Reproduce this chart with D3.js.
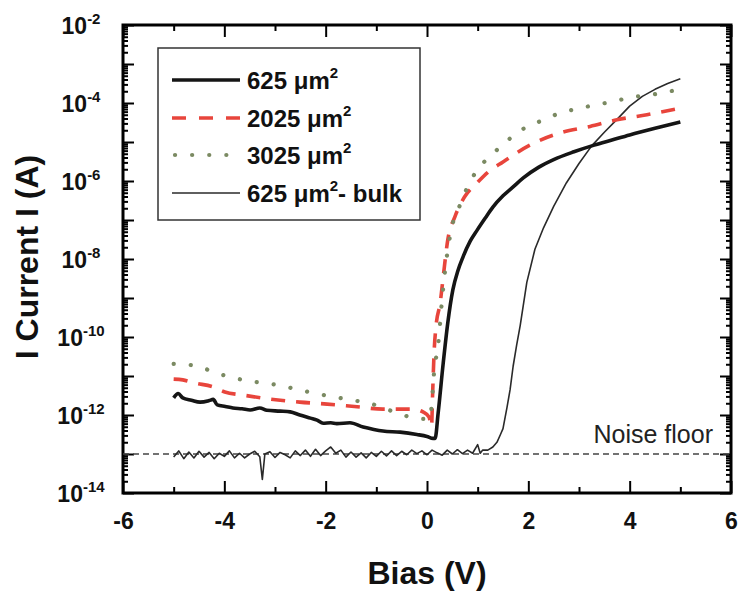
<!DOCTYPE html>
<html>
<head>
<meta charset="utf-8">
<script src="https://cdn.jsdelivr.net/npm/d3@7"></script>
<style>
  html, body { margin: 0; padding: 0; background: #fff; }
  svg { display: block; font-family: "Liberation Sans", Arial, sans-serif; }
</style>
</head>
<body>
<svg id="chart" width="741" height="595"></svg>
<script>
// ---- data (x = bias in V, v = log10 of current in A) ----
const xTickValues = [-6, -4, -2, 0, 2, 4, 6];
const xMinorValues = [-5, -3, -1, 1, 3, 5];
const yLabelExponents = [-2, -4, -6, -8, -10, -12, -14];
const noiseFloor = 1e-13;

const seriesNames = ["625 \u03bcm", "2025 \u03bcm", "3025 \u03bcm", "625 \u03bcm"];
const seriesSuffix = ["", "", "", "- bulk"];

const d625 = [[-5.0,-11.56],[-4.91,-11.45],[-4.82,-11.56],[-4.65,-11.62],[-4.48,-11.67],[-4.3,-11.63],[-4.22,-11.6],[-4.14,-11.74],[-3.98,-11.78],[-3.83,-11.82],[-3.65,-11.84],[-3.49,-11.87],[-3.3,-11.82],[-3.16,-11.88],[-2.9,-11.9],[-2.7,-11.92],[-2.51,-12.0],[-2.3,-12.08],[-2.17,-12.13],[-2.05,-12.21],[-1.9,-12.2],[-1.78,-12.22],[-1.52,-12.2],[-1.26,-12.31],[-1.05,-12.37],[-0.87,-12.41],[-0.53,-12.44],[-0.2,-12.5],[0.0,-12.55],[0.12,-12.6],[0.16,-12.6],[0.22,-11.95],[0.32,-10.67],[0.41,-9.64],[0.51,-8.79],[0.61,-8.3],[0.71,-7.95],[0.85,-7.55],[0.99,-7.26],[1.15,-6.95],[1.3,-6.67],[1.5,-6.38],[1.7,-6.15],[1.9,-5.92],[2.2,-5.65],[2.5,-5.45],[2.9,-5.25],[3.3,-5.08],[3.65,-4.95],[4.0,-4.82],[4.5,-4.65],[5.0,-4.49]];

const d2025 = [[-5.0,-11.08],[-4.82,-11.1],[-4.58,-11.18],[-4.22,-11.28],[-3.99,-11.41],[-3.63,-11.49],[-3.1,-11.59],[-2.51,-11.67],[-1.97,-11.72],[-1.38,-11.79],[-0.87,-11.85],[-0.28,-11.85],[-0.08,-11.92],[0.04,-12.05],[0.09,-12.3],[0.11,-11.5],[0.14,-10.4],[0.18,-9.7],[0.26,-9.13],[0.32,-8.46],[0.41,-7.51],[0.55,-6.92],[0.65,-6.62],[0.8,-6.3],[0.95,-6.1],[1.2,-5.78],[1.5,-5.51],[2.03,-5.08],[2.62,-4.77],[3.22,-4.6],[3.75,-4.43],[4.34,-4.3],[5.0,-4.13]];

const d3025 = [[-5.0,-10.69],[-4.54,-10.74],[-4.18,-10.92],[-3.85,-11.03],[-3.53,-11.13],[-3.2,-11.18],[-2.84,-11.26],[-2.51,-11.36],[-2.15,-11.46],[-1.82,-11.54],[-1.48,-11.62],[-1.16,-11.69],[-0.8,-11.85],[-0.43,-12.02],[-0.1,-12.1],[0.06,-12.1],[0.1,-11.6],[0.14,-10.9],[0.22,-10.2],[0.3,-9.0],[0.39,-7.95],[0.51,-7.08],[0.65,-6.62],[0.79,-6.18],[0.99,-5.72],[1.28,-5.33],[1.6,-4.95],[1.93,-4.64],[2.29,-4.44],[2.62,-4.26],[2.96,-4.15],[3.32,-4.05],[3.65,-3.97],[3.97,-3.87],[4.66,-3.74],[5.0,-3.64]];

const dBulk = [[-5.0,-13.08],[-4.9,-12.92],[-4.8,-13.12],[-4.7,-12.95],[-4.6,-13.1],[-4.5,-12.93],[-4.4,-13.08],[-4.3,-12.96],[-4.2,-13.12],[-4.1,-12.98],[-4.0,-13.06],[-3.9,-12.92],[-3.8,-13.1],[-3.7,-12.98],[-3.6,-13.1],[-3.5,-13.0],[-3.4,-12.93],[-3.3,-13.07],[-3.25,-13.65],[-3.2,-13.0],[-3.1,-12.94],[-3.0,-13.09],[-2.9,-12.96],[-2.8,-13.02],[-2.7,-13.1],[-2.6,-12.92],[-2.5,-13.04],[-2.4,-12.9],[-2.3,-13.06],[-2.2,-12.88],[-2.1,-13.04],[-2.0,-12.92],[-1.9,-12.82],[-1.8,-12.98],[-1.7,-12.9],[-1.6,-13.08],[-1.5,-12.95],[-1.4,-13.08],[-1.3,-12.97],[-1.2,-13.1],[-1.1,-12.96],[-1.0,-13.06],[-0.9,-12.93],[-0.8,-13.05],[-0.7,-12.92],[-0.6,-13.04],[-0.5,-12.93],[-0.4,-13.02],[-0.3,-12.9],[-0.2,-12.99],[-0.1,-12.92],[0.0,-13.02],[0.1,-12.9],[0.2,-12.97],[0.3,-13.03],[0.4,-12.9],[0.5,-13.0],[0.6,-12.89],[0.7,-12.99],[0.8,-12.9],[0.9,-12.98],[1.0,-12.76],[1.05,-12.98],[1.1,-12.9],[1.2,-12.9],[1.3,-12.82],[1.38,-12.7],[1.45,-12.5],[1.5,-12.35],[1.58,-11.8],[1.64,-11.35],[1.7,-10.75],[1.77,-10.2],[1.84,-9.7],[1.97,-8.6],[2.13,-7.75],[2.3,-7.2],[2.5,-6.65],[2.75,-6.05],[3.0,-5.55],[3.25,-5.1],[3.5,-4.75],[3.75,-4.42],[4.0,-4.08],[4.25,-3.83],[4.5,-3.65],[4.75,-3.5],[5.0,-3.38]];

// ---- layout ----
const svg = d3.select("#chart");
const L = 123, T = 25, W = 608, H = 468;
const font = '"Liberation Sans", Arial, sans-serif';

const x = d3.scaleLinear().domain([-6, 6]).range([L, L + W]);
const y = d3.scaleLog().domain([1e-14, 1e-2]).range([T + H, T]);

const decades = d3.range(-14, -1).map(e => Math.pow(10, e));
const minors = [];
d3.range(-14, -2).forEach(e => { for (let k = 2; k <= 9; k++) minors.push(k * Math.pow(10, e)); });

function axisStyle(g) {
  g.select(".domain").remove();
  g.selectAll(".tick line").attr("stroke", "#000").attr("stroke-width", 2);
}

// bottom axis (major with labels)
svg.append("g").attr("transform", `translate(0,${T + H})`)
  .call(d3.axisBottom(x).tickValues(xTickValues).tickSize(-12).tickPadding(20).tickFormat(d => String(d)))
  .call(axisStyle)
  .call(g => g.selectAll("text").attr("font-family", font).attr("font-size", 23).attr("font-weight", "bold").attr("fill", "#111"));
svg.append("g").attr("transform", `translate(0,${T + H})`)
  .call(d3.axisBottom(x).tickValues(xMinorValues).tickSize(-6).tickFormat(""))
  .call(axisStyle);
// top mirrored
svg.append("g").attr("transform", `translate(0,${T})`)
  .call(d3.axisTop(x).tickValues(xTickValues).tickSize(-12).tickFormat(""))
  .call(axisStyle);
svg.append("g").attr("transform", `translate(0,${T})`)
  .call(d3.axisTop(x).tickValues(xMinorValues).tickSize(-6).tickFormat(""))
  .call(axisStyle);
// left
svg.append("g").attr("transform", `translate(${L},0)`)
  .call(d3.axisLeft(y).tickValues(decades).tickSize(-11).tickFormat(""))
  .call(axisStyle);
svg.append("g").attr("transform", `translate(${L},0)`)
  .call(d3.axisLeft(y).tickValues(minors).tickSize(-5).tickFormat(""))
  .call(axisStyle);
// right
svg.append("g").attr("transform", `translate(${L + W},0)`)
  .call(d3.axisRight(y).tickValues(decades).tickSize(-11).tickFormat(""))
  .call(axisStyle);
svg.append("g").attr("transform", `translate(${L + W},0)`)
  .call(d3.axisRight(y).tickValues(minors).tickSize(-5).tickFormat(""))
  .call(axisStyle);

// y tick labels 10^n
yLabelExponents.forEach(e => {
  const t = svg.append("text")
    .attr("x", 81).attr("y", y(Math.pow(10, e)) + 8.5)
    .attr("text-anchor", "middle")
    .attr("font-family", font).attr("font-weight", "bold").attr("fill", "#111");
  t.append("tspan").attr("font-size", 23).text("10");
  t.append("tspan").attr("font-size", 15).attr("dy", -10).text(String(e));
});

// frame
svg.append("rect").attr("x", L).attr("y", T).attr("width", W).attr("height", H)
  .attr("fill", "none").attr("stroke", "#000").attr("stroke-width", 3);

// axis titles
svg.append("text").attr("x", x(0)).attr("y", 584).attr("text-anchor", "middle")
  .attr("font-family", font).attr("font-size", 32).attr("font-weight", "bold").attr("fill", "#111")
  .text("Bias (V)");
svg.append("text").attr("transform", `translate(38,257) rotate(-90)`).attr("text-anchor", "middle")
  .attr("font-family", font).attr("font-size", 32).attr("font-weight", "bold").attr("fill", "#111")
  .text("I Current I (A)");

// noise floor
svg.append("line").attr("x1", x(-6)).attr("x2", x(6)).attr("y1", y(noiseFloor)).attr("y2", y(noiseFloor))
  .attr("stroke", "#444").attr("stroke-width", 1.5).attr("stroke-dasharray", "6,4");
svg.append("text").attr("x", 713).attr("y", 443).attr("text-anchor", "end")
  .attr("font-family", font).attr("font-size", 25).attr("fill", "#222").text("Noise floor");

// curves
const styles = [
  { color: "#151515", width: 3.6, dash: null, cap: "butt" },
  { color: "#e8453c", width: 3.6, dash: "14,11", cap: "butt" },
  { color: "#7b8a62", width: 4.2, dash: "0.1,17", cap: "round" },
  { color: "#2a2a2a", width: 1.6, dash: null, cap: "butt" }
];
const lineS = d3.line().x(d => x(d[0])).y(d => y(Math.pow(10, d[1]))).curve(d3.curveMonotoneX);
const lineL = d3.line().x(d => x(d[0])).y(d => y(Math.pow(10, d[1])));

const plotG = svg.append("g");
function drawSeries(data, st, gen) {
  const p = plotG.append("path").attr("d", gen(data)).attr("fill", "none")
    .attr("stroke", st.color).attr("stroke-width", st.width)
    .attr("stroke-linecap", st.cap).attr("stroke-linejoin", "round");
  if (st.dash) p.attr("stroke-dasharray", st.dash);
}
drawSeries(dBulk, styles[3], lineL);
drawSeries(d625, styles[0], lineS);
drawSeries(d2025, styles[1], lineS);
drawSeries(d3025, styles[2], lineS);

// legend
const lg = svg.append("g");
lg.append("rect").attr("x", 158).attr("y", 48).attr("width", 262).attr("height", 172)
  .attr("fill", "#fff").attr("stroke", "#333").attr("stroke-width", 1.5);
const rowY = [80, 118, 155, 193];
seriesNames.forEach((name, i) => {
  const st = styles[i];
  const ln = lg.append("line").attr("x1", 172).attr("x2", 240).attr("y1", rowY[i]).attr("y2", rowY[i])
    .attr("stroke", st.color).attr("stroke-width", st.width).attr("stroke-linecap", st.cap);
  if (st.dash) ln.attr("stroke-dasharray", i === 2 ? "0.1,17" : "14,13").attr("x1", i === 2 ? 175 : 172);
  const t = lg.append("text").attr("x", 247).attr("y", rowY[i] + 8.5)
    .attr("font-family", font).attr("font-weight", "bold").attr("fill", "#111");
  t.append("tspan").attr("font-size", 24).text(name);
  t.append("tspan").attr("font-size", 15).attr("dy", -11).text("2");
  if (seriesSuffix[i]) t.append("tspan").attr("font-size", 24).attr("dy", 11).text(seriesSuffix[i]);
});
</script>
</body>
</html>
